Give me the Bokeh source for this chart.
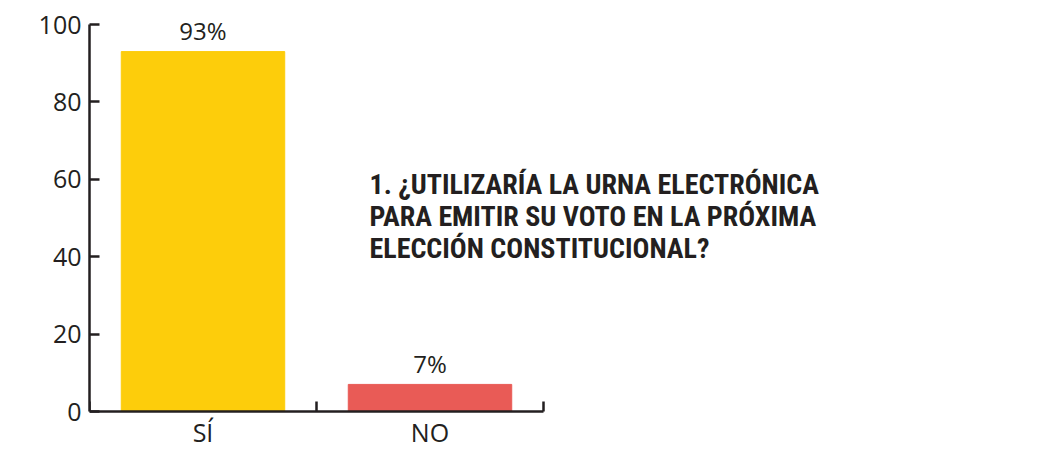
from bokeh.plotting import figure
from bokeh.models import Range1d, FixedTicker, Label, ColumnDataSource, LinearAxis
from bokeh.core.properties import value
from bokeh.embed import file_html
from bokeh.resources import INLINE

categories = ["SÍ", "NO"]
percentages = [93, 7]
bar_colors = ["#FDCD0B", "#E95B56"]
y_ticks = [0, 20, 40, 60, 80, 100]
title_lines = [
    "1. ¿UTILIZARÍA LA URNA ELECTRÓNICA",
    "PARA EMITIR SU VOTO EN LA PRÓXIMA",
    "ELECCIÓN CONSTITUCIONAL?",
]

DARK = "#231f20"
FONT = "Open Sans"
TITLE_FONT = "Roboto Condensed"

W, H = 1027, 451
LEFT = 89            # y axis position (px)
PX_PER_CAT = 227     # width of one category slot (px)
Y0, Y100 = 411, 24   # pixel rows of 0 and 100
ppu = (Y0 - Y100) / 100.0

n = len(categories)
x_end = (W - LEFT) / PX_PER_CAT
y_start = -(H - Y0) / ppu
y_end = 100 + Y100 / ppu

xs = [i + 0.5 for i in range(n)]
src = ColumnDataSource(dict(
    x=xs, top=percentages, color=bar_colors,
    label=[f"{v}%" for v in percentages], cat=categories,
))

p = figure(width=W, height=H, output_backend="svg", toolbar_location=None,
           x_range=Range1d(0, x_end), y_range=Range1d(y_start, y_end),
           x_axis_location=None,
           min_border_left=LEFT, min_border_right=0, min_border_top=0,
           min_border_bottom=0)
p.outline_line_color = None
p.background_fill_color = "white"
p.border_fill_color = "white"
p.grid.visible = False

p.vbar(x="x", bottom=0, top="top", width=0.72, color="color", source=src)
p.text(x="x", y="top", text="label", source=src, text_align="center",
       text_baseline="middle", y_offset=-21, text_font=value(FONT),
       text_font_size="24px", text_color=DARK)
p.text(x="x", y=0, text="cat", source=src, text_align="center",
       text_baseline="middle", y_offset=20, text_font=value(FONT),
       text_font_size="25px", text_color=DARK)

# y axis
ya = p.yaxis[0]
ya.ticker = FixedTicker(ticks=y_ticks)
ya.bounds = (0, 100)
ya.axis_line_color = DARK
ya.axis_line_width = 2.5
ya.major_tick_in = 10
ya.major_tick_out = 0
ya.major_tick_line_color = DARK
ya.major_tick_line_width = 2.5
ya.minor_tick_line_color = None
ya.major_label_text_font = FONT
ya.major_label_text_font_size = "25px"
ya.major_label_text_color = DARK
ya.major_label_standoff = 8

# x axis at y = 0: ticks at category boundaries
xa = LinearAxis(fixed_location=0, bounds=(0, n),
                ticker=FixedTicker(ticks=[], minor_ticks=list(range(n + 1))))
xa.axis_line_color = DARK
xa.axis_line_width = 2.5
xa.major_tick_line_color = None
xa.major_label_text_font_size = "0px"
xa.major_label_standoff = 0
xa.minor_tick_in = 10
xa.minor_tick_out = 0
xa.minor_tick_line_color = DARK
xa.minor_tick_line_width = 2.5
p.add_layout(xa, "below")

title_x = 369 - LEFT
for i, line in enumerate(title_lines):
    p.add_layout(Label(x=title_x, y=H - (184 + 32 * i), x_units="screen", y_units="screen",
                       text=line, text_font=TITLE_FONT, text_font_style="bold",
                       text_font_size="28px", text_color=DARK,
                       text_baseline="middle", text_align="left"))

open("out.html", "w").write(file_html(p, INLINE))
